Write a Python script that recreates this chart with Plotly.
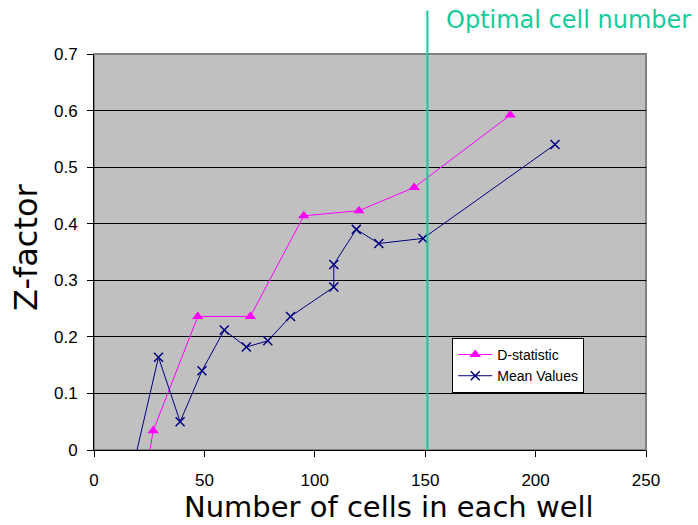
import plotly.graph_objects as go

# D-statistic series
d_x = [18, 26.8, 47, 70.8, 95, 120, 145, 188.5]
d_y = [-0.17, 0.034, 0.236, 0.236, 0.414, 0.423, 0.464, 0.592]

# Mean values series
m_x = [10, 29.2, 39, 48.9, 59, 69, 78.7, 89, 108.6, 108.6, 118.8, 129, 149, 208.8]
m_y = [-0.16, 0.164, 0.050, 0.140, 0.212, 0.182, 0.193, 0.236, 0.288, 0.328, 0.390, 0.365, 0.374, 0.540]

optimal_x = 151
x_ticks = [0, 50, 100, 150, 200, 250]
y_ticks = [0, 0.1, 0.2, 0.3, 0.4, 0.5, 0.6, 0.7]
y_tick_text = ["0", "0.1", "0.2", "0.3", "0.4", "0.5", "0.6", "0.7"]

green = "#14cc9a"
title_font = "Comic Sans MS, DejaVu Sans, sans-serif"
tick_font = "Liberation Sans, Arial, sans-serif"

fig = go.Figure()
fig.add_trace(go.Scatter(
    x=d_x, y=d_y, mode="lines+markers", name="D-statistic",
    line=dict(color="#ff00ff", width=1),
    marker=dict(symbol="triangle-up", size=10, color="#ff00ff"),
))
fig.add_trace(go.Scatter(
    x=m_x, y=m_y, mode="lines+markers", name="Mean Values",
    line=dict(color="#000080", width=1),
    marker=dict(symbol="x-thin", size=9, color="#000080",
                line=dict(color="#000080", width=1.5)),
))

# Optimal cell number marker line, extending above the plot area
fig.add_shape(type="line", xref="x", yref="paper",
              x0=optimal_x, x1=optimal_x, y0=0, y1=1.11,
              line=dict(color=green, width=2), layer="above")
fig.add_annotation(text="Optimal cell number", xref="paper", yref="paper",
                   x=1.085, y=1.086, xanchor="right", yanchor="middle",
                   showarrow=False, font=dict(family=title_font, size=24, color=green))

fig.add_annotation(text="Number of cells in each well", xref="paper", yref="paper",
                   x=0.534, y=-0.144, xanchor="center", yanchor="middle",
                   showarrow=False, font=dict(family=title_font, size=29, color="black"))
fig.add_annotation(text="Z-factor", xref="paper", yref="paper",
                   x=-0.123, y=0.513, xanchor="center", yanchor="middle", textangle=-90,
                   showarrow=False, font=dict(family=title_font, size=32, color="black"))

fig.update_layout(
    width=698, height=525,
    margin=dict(l=94, r=52, t=54, b=75),
    paper_bgcolor="white",
    plot_bgcolor="#c0c0c0",
    font=dict(family=tick_font, size=17, color="black"),
    showlegend=True,
    legend=dict(x=0.649, y=0.283, xanchor="left", yanchor="top",
                bgcolor="white", bordercolor="black", borderwidth=1,
                font=dict(family=tick_font, size=14),
                itemwidth=34, tracegroupgap=0),
)
fig.update_xaxes(range=[0, 250], tickvals=x_ticks, showgrid=False, zeroline=False,
                 showline=True, linecolor="black", linewidth=1, mirror=False,
                 ticks="outside", ticklen=6, tickcolor="black", ticklabelstandoff=9)
fig.update_yaxes(range=[0, 0.7], tickvals=y_ticks, ticktext=y_tick_text,
                 showgrid=True, gridcolor="black", gridwidth=1, zeroline=False,
                 showline=True, linecolor="black", linewidth=1,
                 ticks="outside", ticklen=6, tickcolor="black", ticklabelstandoff=6)

# Gray frame on the top and right of the plot area
fig.add_shape(type="rect", xref="paper", yref="paper", x0=0, x1=1, y0=0, y1=1,
              line=dict(color="#808080", width=2), layer="below")

fig.write_html("out.html")
